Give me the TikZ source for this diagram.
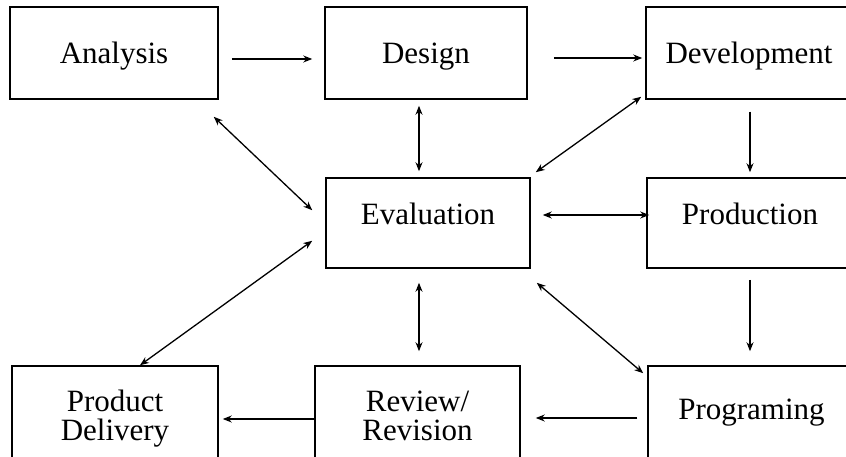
\documentclass[tikz,border=0pt]{standalone}
\usepackage{fontspec}
\setmainfont{Liberation Serif}
\usetikzlibrary{arrows.meta,calc}

\begin{document}
\begin{tikzpicture}[
            x=1pt,
            y=-1pt,
            stage/.style={draw, line width=1.5pt, inner sep=0pt, align=center,
                font=\fontsize{31}{29}\selectfont},
            oneline/.style={text height=21pt, text depth=#1},
            oneline/.default=0pt,
            flow/.style={line width=1.3pt, -{Stealth[length=9pt,width=7pt]}},
            link/.style={line width=1.3pt, {Stealth[length=9pt,width=7pt]}-{Stealth[length=9pt,width=7pt]}}
        ]
            \clip (0,0) rectangle (846,457);

            % Top row
            \node[stage, oneline, minimum width=208pt, minimum height=92pt] (analysis) at (114,53) {Analysis};
            \node[stage, oneline, minimum width=202pt, minimum height=92pt] (design) at (426,53) {Design};
            \node[stage, oneline, minimum width=206pt, minimum height=92pt] (development) at (749,53) {Development};

            % Middle row
            \node[stage, oneline=18pt, minimum width=204pt, minimum height=90pt] (evaluation) at (428,223) {Evaluation};
            \node[stage, oneline=18pt, minimum width=206pt, minimum height=90pt] (production) at (750,223) {Production};

            % Bottom row
            \node[stage, minimum width=206pt, minimum height=92pt] (delivery) at (115,412) {\rule{0pt}{35pt}Product\\Delivery};
            \node[stage, minimum width=205pt, minimum height=92pt] (review) at (417.5,412) {\rule{0pt}{35pt}Review/\\Revision\rule[-7pt]{0pt}{7pt}};
            \node[stage, oneline=6pt, minimum width=207pt, minimum height=92pt] (programing) at (751.5,412) {Programing};

            % One-way steps
            \draw[flow] ($(analysis.east)+(13,6)$) -- ($(design.west)+(-12,6)$);
            \draw[flow] ($(design.east)+(26,5)$) -- ($(development.west)+(-3,5)$);
            \draw[flow] ($(development.south)+(1,12)$) -- ($(production.north)+(0,-5)$);
            \draw[flow] ($(production.south)+(0,11)$) -- ($(programing.north)+(-1.5,-14)$);
            \draw[flow] ($(programing.west)+(-10,6)$) -- ($(review.east)+(15,6)$);
            \draw[flow] ($(review.west)+(0,7)$) -- ($(delivery.east)+(4,7)$);

            % Links with the evaluation
            \draw[link] ($(design.south)+(-7,6)$) -- ($(evaluation.north)+(-9,-6)$);
            \draw[link] ($(analysis.south east)+(-5,17)$) -- ($(evaluation.north west)+(-13,33)$);
            \draw[link] ($(evaluation.north east)+(5,-5)$) -- ($(development.south west)+(-4,-3)$);
            \draw[link] ($(evaluation.east)+(12,-8)$) -- ($(production.west)+(3,-8)$);
            \draw[link] ($(evaluation.south east)+(6,14)$) -- ($(programing.north west)+(-4,8)$);
            \draw[link] ($(evaluation.south)+(-9,14)$) -- ($(review.north)+(1.5,-14)$);
            \draw[link] ($(evaluation.south west)+(-13,-28)$) -- ($(delivery.north)+(25,0)$);
        \end{tikzpicture}
\end{document}
